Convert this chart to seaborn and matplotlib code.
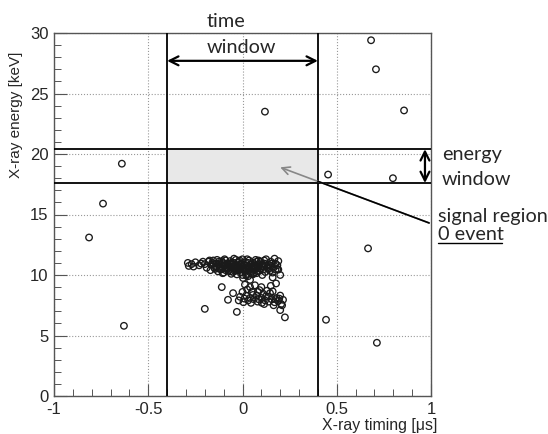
import numpy as np
import pandas as pd
import matplotlib
matplotlib.use('Agg')
import matplotlib.pyplot as plt
import seaborn as sns
from matplotlib.lines import Line2D
from matplotlib.ticker import MultipleLocator

# isolated events outside the main cluster
lone_t = [-0.64, -0.74, -0.814, -0.629, 0.682, 0.708, 0.857, 0.119, 0.454, 0.798,
          0.666, 0.443, 0.713, -0.20, -0.03, 0.225]
lone_e = [19.2, 15.9, 13.1, 5.8, 29.4, 27.0, 23.6, 23.5, 18.3, 18.0,
          12.2, 6.3, 4.4, 7.2, 6.95, 6.5]

# upper band of the cluster (~11 keV)
upper_t = [-0.29, -0.285, -0.27, -0.25, -0.23, -0.21, -0.20, -0.19, -0.18, -0.17,
           -0.165, -0.155, -0.15, -0.14, -0.13, -0.125, -0.12, -0.11, -0.105, -0.10,
           -0.095, -0.09, -0.085, -0.08, -0.075, -0.07, -0.065, -0.06, -0.055, -0.05,
           -0.045, -0.04, -0.035, -0.03, -0.025, -0.02, -0.015, -0.01, -0.005, 0.0,
           0.005, 0.01, 0.015, 0.02, 0.025, 0.03, 0.035, 0.04, 0.045, 0.05,
           0.055, 0.06, 0.065, 0.07, 0.075, 0.08, 0.085, 0.09, 0.095, 0.10,
           0.105, 0.11, 0.115, 0.12, 0.125, 0.13, 0.14, 0.145, 0.15, 0.16,
           0.165, 0.17, 0.175, 0.185, 0.19, 0.20, 0.16, 0.003, 0.04,
           -0.12, -0.08, -0.06, -0.03, -0.01, 0.01, 0.03, 0.05, 0.07, 0.09,
           -0.14, -0.10, -0.02, 0.02, 0.04, 0.06, 0.11, -0.05, 0.0, -0.07,
           -0.04, 0.08, 0.12, 0.14, -0.16, -0.11, -0.09, -0.13, 0.0, 0.03, -0.03,
           -0.135, -0.115, -0.095, -0.075, -0.055, -0.035, -0.015, 0.005, 0.025, 0.045,
           0.065, 0.085, 0.105, -0.125, -0.105, -0.085, -0.065, -0.045, -0.025, 0.015,
           0.035, 0.055, 0.075, 0.095, 0.135, 0.155, 0.175, 0.185, -0.22, -0.26,
           -0.175, -0.145, 0.115, 0.15, 0.19, -0.06, 0.02, 0.06]
upper_e = [11.0, 10.75, 10.9, 11.05, 10.8, 11.1, 10.9, 10.6, 11.1, 10.4,
           10.85, 11.2, 10.6, 10.95, 10.3, 11.1, 10.7, 10.5, 11.0, 10.2,
           10.8, 11.2, 10.5, 10.95, 10.35, 10.7, 11.15, 10.5, 10.85, 10.25,
           11.0, 10.6, 11.25, 10.4, 10.8, 11.1, 10.55, 10.2, 10.9, 11.3,
           10.65, 10.35, 11.05, 10.75, 10.1, 10.5, 11.2, 10.85, 10.3, 10.6,
           11.0, 10.4, 10.8, 11.25, 10.15, 10.55, 10.9, 10.35, 11.1, 10.7,
           10.0, 10.45, 10.95, 10.25, 11.3, 10.6, 10.85, 10.35, 11.1, 10.2,
           10.6, 11.35, 10.95, 10.8, 11.15, 10.0, 9.8, 9.75, 9.6,
           10.9, 10.6, 11.0, 10.7, 10.9, 10.8, 11.0, 10.9, 10.6, 10.8,
           10.7, 10.9, 10.4, 10.5, 10.4, 10.7, 10.7, 10.7, 10.5, 10.9,
           10.5, 10.3, 10.9, 10.5, 11.0, 11.15, 10.4, 10.55, 10.0, 9.9, 10.05,
           11.25, 10.45, 11.3, 10.6, 10.95, 10.35, 11.2, 10.45, 11.3, 10.15,
           10.55, 11.2, 10.85, 10.85, 10.15, 10.65, 10.3, 11.35, 11.05, 10.25,
           10.65, 10.05, 11.1, 10.5, 10.75, 10.95, 10.45, 10.5, 10.95, 10.7,
           11.2, 10.5, 11.2, 10.75, 10.45, 10.1, 9.95, 10.15]

# lower band of the cluster (~8 keV)
lower_t = [-0.11, -0.05, -0.077, 0.0, 0.013, 0.02, 0.03, 0.04, 0.05, 0.06,
           0.066, 0.075, 0.08, 0.09, 0.10, 0.103, 0.11, 0.12, 0.13, 0.135,
           0.14, 0.146, 0.155, 0.16, 0.17, 0.178, 0.18, 0.19, 0.20, 0.205,
           0.21, 0.215, -0.013, -0.02, 0.005, 0.025, 0.045, 0.085, 0.115, 0.165,
           0.195, 0.10, 0.15, 0.04, 0.082, 0.20, 0.01, 0.055, 0.125, 0.175]
lower_e = [9.0, 8.5, 7.95, 8.6, 9.2, 8.3, 7.9, 8.1, 8.6, 8.0,
           9.15, 8.3, 7.8, 8.75, 8.1, 7.7, 8.45, 7.9, 8.7, 8.2,
           7.8, 8.5, 8.0, 8.65, 7.75, 9.3, 8.1, 7.85, 8.3, 7.6,
           7.5, 7.95, 8.2, 7.9, 7.75, 8.8, 7.7, 8.0, 7.6, 7.5,
           8.05, 9.0, 9.1, 9.0, 8.6, 7.1, 8.05, 8.35, 8.25, 8.0]

# analysis windows
time_win = (-0.4, 0.4)
energy_win = (17.6, 20.4)

xtick_vals = [-1, -0.5, 0, 0.5, 1]
xtick_text = ['-1', '-0.5', '0', '0.5', '1']
ytick_vals = [0, 5, 10, 15, 20, 25, 30]

events = pd.DataFrame({
    'timing': lone_t + upper_t + lower_t,
    'energy': lone_e + upper_e + lower_e,
})

sns.set_style('white')
plt.rcParams['font.family'] = ['Liberation Sans', 'DejaVu Sans']
plt.rcParams['axes.unicode_minus'] = False

W, H = 548, 434
fig = plt.figure(figsize=(W / 100, H / 100), dpi=100)
ax = fig.add_axes([54 / W, (H - 396) / H, 377 / W, 363 / H])

# shaded signal region
ax.fill_between(list(time_win), energy_win[0], energy_win[1], color='#e8e8e8', lw=0, zorder=1)

sns.scatterplot(data=events, x='timing', y='energy', ax=ax, marker='o',
                s=22, facecolor='none', edgecolor='#1a1a1a', linewidth=0.95, zorder=4)

for t in time_win:
    ax.axvline(t, color='black', lw=1.3, zorder=3)
for e in energy_win:
    ax.axhline(e, color='black', lw=1.3, zorder=3)

ax.set_xlim(-1, 1)
ax.set_ylim(0, 30)
ax.set_xticks(xtick_vals)
ax.set_xticklabels(xtick_text)
ax.set_yticks(ytick_vals)
ax.xaxis.set_minor_locator(MultipleLocator(0.1))
ax.yaxis.set_minor_locator(MultipleLocator(1))
ax.tick_params(which='both', direction='in', top=False, right=False,
               bottom=True, left=True, color='#555555', labelsize=12)
ax.tick_params(which='major', length=9, width=0.8, pad=4)
ax.tick_params(which='minor', length=5, width=0.7)
ax.grid(True, which='major', ls=':', color='#999999', lw=0.8, zorder=0)
for sp in ax.spines.values():
    sp.set_color('#555555')
    sp.set_linewidth(1.0)
ax.set_xlabel('')
ax.set_ylabel('')


def fit_text(txt, length_px, along='width'):
    # scale the font so the text spans the given number of pixels
    r = fig.canvas.get_renderer()
    bb = txt.get_window_extent(renderer=r)
    cur = bb.width if along == 'width' else bb.height
    txt.set_fontsize(txt.get_fontsize() * length_px / cur)


ylab = fig.text(16 / W, 1 - 115 / H, 'X-ray energy [keV]', rotation=90,
                ha='center', va='center', fontsize=11)
fit_text(ylab, 126, along='height')
xlab = fig.text(437 / W, 1 - 433 / H, 'X-ray timing [μs]', ha='right', va='bottom', fontsize=11)
fit_text(xlab, 115)

# arrows
ax.annotate('', xy=(time_win[1], 27.7), xytext=(time_win[0], 27.7),
            arrowprops=dict(arrowstyle='<->', lw=1.6, color='black',
                            shrinkA=0, shrinkB=0, mutation_scale=16), zorder=5)
ax.annotate('', xy=(0.968, energy_win[1]), xytext=(0.968, energy_win[0]),
            arrowprops=dict(arrowstyle='<->', lw=1.6, color='black',
                            shrinkA=0, shrinkB=0, mutation_scale=16), zorder=5)
ax.annotate('', xy=(0.2, 18.9), xytext=(0.99, 14.3),
            arrowprops=dict(arrowstyle='->', lw=1.2, color='#888888',
                            shrinkA=0, shrinkB=0, mutation_scale=14), zorder=5)
ax.plot([0.99, 0.4], [14.3, 17.74], color='black', lw=1.2, zorder=6)

# annotation texts
tfont = dict(family=['Lato', 'DejaVu Sans'], fontsize=14.3)
fig.text(207 / W, 1 - 27 / H, 'time', va='baseline', ha='left', **tfont)
fig.text(207 / W, 1 - 53 / H, 'window', va='baseline', ha='left', **tfont)
fig.text(442 / W, 1 - 160 / H, 'energy', va='baseline', ha='left', **tfont)
fig.text(442 / W, 1 - 185 / H, 'window', va='baseline', ha='left', **tfont)
fig.text(438 / W, 1 - 222 / H, 'signal region', va='baseline', ha='left', **tfont)
fig.text(438 / W, 1 - 240 / H, '0 event', va='baseline', ha='left', **tfont)
fig.add_artist(Line2D([438 / W, 502 / W], [1 - 243 / H, 1 - 243 / H], color='black', lw=1))

fig.savefig('out.png', dpi=100, facecolor='white')
